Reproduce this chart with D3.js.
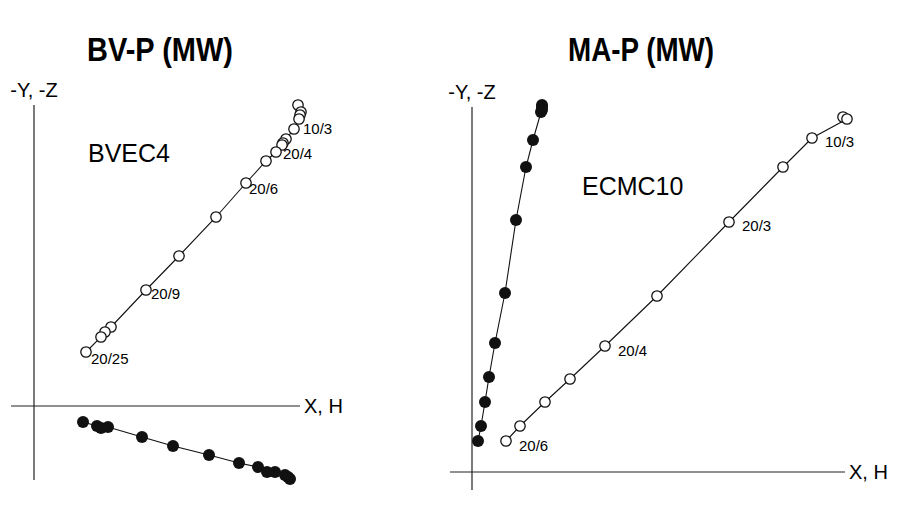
<!DOCTYPE html>
<html><head><meta charset="utf-8">
<script src="https://cdn.jsdelivr.net/npm/d3@7"></script>
<style>body{margin:0;background:#fff;}svg{display:block;font-family:"Liberation Sans",Arial,sans-serif;}</style>
</head><body>
<svg id="c" width="906" height="518"></svg>
<script>
// ---- Data (arbitrary units, origin at axis crossing) ----
const titles = ["BV-P (MW)", "MA-P (MW)"];
const samples = ["BVEC4", "ECMC10"];
const axisLabelV = "-Y, -Z";
const axisLabelH = "X, H";

// BV-P vertical projection (open)
const bvOpenX = [26.4,26.7,26.6,26.5,26.0,25.2,24.9,24.8,24.2,23.2,21.2,18.2,14.5,11.2,7.7,7.1,6.7,5.2];
const bvOpenY = [30.1,29.4,29.1,28.7,27.7,26.7,26.3,26.1,25.4,24.5,22.3,18.9,15.0,11.6,7.9,7.4,6.9,5.4];
// BV-P horizontal projection (filled)
const bvFillX = [4.9,6.3,6.7,7.4,10.8,13.9,17.5,20.5,22.4,23.3,24.1,25.1,25.4,25.6];
const bvFillY = [-1.6,-2.0,-2.2,-2.1,-3.1,-4.0,-4.9,-5.7,-6.1,-6.6,-6.6,-6.9,-7.1,-7.3];
const bvStepLabels = ["10/3","20/4","20/6","20/9","20/25"];
const bvLabelIdx = [4,8,10,13,17];

// MA-P vertical projection (open)
const maOpenX = [37.1,37.5,34.0,31.1,25.7,18.5,13.3,9.8,7.3,4.8,3.4];
const maOpenY = [35.5,35.3,33.4,30.5,25.0,17.6,12.6,9.3,7.0,4.6,3.1];
// MA-P horizontal projection (filled)
const maFillX = [7.0,7.0,7.0,6.9,6.1,5.4,4.4,3.3,2.3,1.7,1.3,0.9,0.6];
const maFillY = [36.7,36.5,36.2,36.0,33.2,30.5,25.2,17.9,12.9,9.5,7.0,4.6,3.1];
const maStepLabels = ["10/3","20/3","20/4","20/6"];
const maLabelIdx = [2,4,6,10];

// axis extents (data units)
const bvAxisX = [-2.3, 26.6], bvAxisY = [-7.4, 30.1];
const maAxisX = [-2.2, 37.3], maAxisY = [-1.8, 36.5];

const svg = d3.select("#c");

function panel(cfg){
  const x = d3.scaleLinear().domain([0,10]).range([cfg.ox, cfg.ox+100]);
  const y = d3.scaleLinear().domain([0,10]).range([cfg.oy, cfg.oy-100]);
  const g = svg.append("g");
  // title
  g.append("text").attr("x", cfg.tx).attr("y", 61).attr("text-anchor","middle")
    .attr("font-size", 33).attr("font-weight","bold")
    .attr("textLength", 146).attr("lengthAdjust","spacingAndGlyphs").text(cfg.title);
  // axes
  g.append("line").attr("x1", x(cfg.axX[0])).attr("x2", x(cfg.axX[1]))
    .attr("y1", y(0)).attr("y2", y(0)).attr("stroke","#222").attr("stroke-width",1.2);
  g.append("line").attr("x1", x(0)).attr("x2", x(0))
    .attr("y1", y(cfg.axY[1])).attr("y2", y(cfg.axY[0])).attr("stroke","#222").attr("stroke-width",1.2);
  g.append("text").attr("x", x(cfg.axX[1])+4).attr("y", y(0)+7).attr("font-size",20).text(axisLabelH);
  g.append("text").attr("x", x(0)).attr("y", y(cfg.axY[1])-8).attr("text-anchor","middle").attr("font-size",20).text(axisLabelV);
  // sample name
  g.append("text").attr("x", cfg.sx).attr("y", cfg.sy).attr("font-size",25).text(cfg.sample);

  const line = d3.line().x(d=>x(d[0])).y(d=>y(d[1]));
  const fill = cfg.fx.map((v,i)=>[v,cfg.fy[i]]);
  const open = cfg.hx.map((v,i)=>[v,cfg.hy[i]]);
  [fill, open].forEach(pts=>{
    g.append("path").attr("d", line(pts)).attr("fill","none").attr("stroke","#111").attr("stroke-width",1.1);
  });
  g.selectAll(null).data(fill).enter().append("circle")
    .attr("cx", d=>x(d[0])).attr("cy", d=>y(d[1])).attr("r",6).attr("fill","#111");
  g.selectAll(null).data(open).enter().append("circle")
    .attr("cx", d=>x(d[0])).attr("cy", d=>y(d[1])).attr("r",5.2)
    .attr("fill","#fff").attr("stroke","#111").attr("stroke-width",1.3);
  cfg.labels.forEach((t,i)=>{
    const p = open[cfg.labelIdx[i]];
    g.append("text").attr("x", x(p[0])+cfg.lo[i][0]).attr("y", y(p[1])+cfg.lo[i][1])
      .attr("font-size",15).text(t);
  });
}

panel({ox:34, oy:406, tx:160, title:titles[0], sample:samples[0], sx:88, sy:162,
  axX:bvAxisX, axY:bvAxisY, fx:bvFillX, fy:bvFillY, hx:bvOpenX, hy:bvOpenY,
  labels:bvStepLabels, labelIdx:bvLabelIdx, lo:[[9,5],[7,7],[3,11],[5,9],[5,12]]});
panel({ox:472, oy:472, tx:641, title:titles[1], sample:samples[1], sx:582, sy:195,
  axX:maAxisX, axY:maAxisY, fx:maFillX, fy:maFillY, hx:maOpenX, hy:maOpenY,
  labels:maStepLabels, labelIdx:maLabelIdx, lo:[[13,9],[13,9],[13,10],[13,10]]});
</script>
</body></html>
